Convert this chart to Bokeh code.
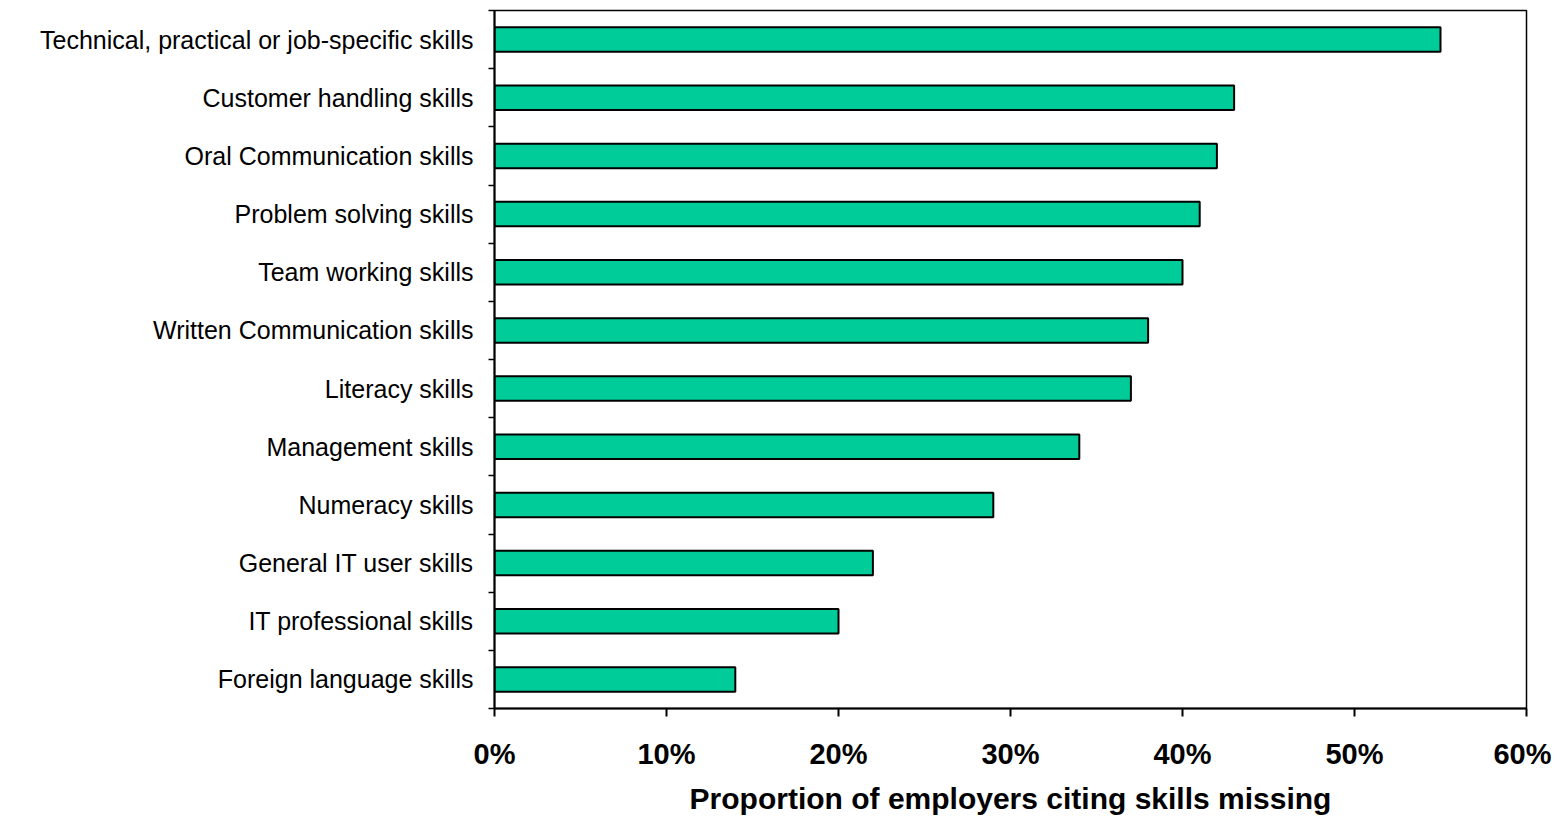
from bokeh.plotting import figure
from bokeh.models import Range1d, FixedTicker, PrintfTickFormatter
from bokeh.embed import file_html
from bokeh.resources import INLINE

categories = [
    "Technical, practical or job-specific skills",
    "Customer handling skills",
    "Oral Communication skills",
    "Problem solving skills",
    "Team working skills",
    "Written Communication skills",
    "Literacy skills",
    "Management skills",
    "Numeracy skills",
    "General IT user skills",
    "IT professional skills",
    "Foreign language skills",
]
values = [55, 43, 42, 41, 40, 38, 37, 34, 29, 22, 20, 14]
x_ticks = [0, 10, 20, 30, 40, 50, 60]

n = len(categories)
# first category at the top
ypos = [n - i for i in range(n)]

p = figure(width=1551, height=817, output_backend="svg", toolbar_location=None,
           x_range=Range1d(0, 60), y_range=Range1d(0.5, n + 0.5),
           min_border_left=494, min_border_right=25, min_border_top=10, min_border_bottom=100)

p.hbar(y=ypos, right=values, left=0, height=0.42, fill_color="#00CC99",
       line_color="black", line_width=2)

p.xgrid.visible = False
p.ygrid.visible = False
p.outline_line_color = "black"
p.outline_line_width = 1.5
p.background_fill_color = "white"
p.border_fill_color = "white"

# y axis
ya = p.yaxis[0]
ya.ticker = FixedTicker(ticks=ypos, minor_ticks=[k + 0.5 for k in range(0, n + 1)])
ya.major_label_overrides = {y: c for y, c in zip(ypos, categories)}
ya.major_tick_line_color = None
ya.major_tick_out = 0
ya.major_tick_in = 0
ya.minor_tick_line_color = "black"
ya.minor_tick_line_width = 1.5
ya.minor_tick_out = 6
ya.minor_tick_in = 0
ya.axis_line_width = 2
ya.axis_line_color = "black"
ya.major_label_text_font = "Liberation Sans"
ya.major_label_text_font_size = "25px"
ya.major_label_text_color = "black"
ya.major_label_standoff = 15

# x axis
xa = p.xaxis[0]
xa.ticker = FixedTicker(ticks=x_ticks, minor_ticks=[])
xa.formatter = PrintfTickFormatter(format="%d%%")
xa.major_tick_out = 8
xa.major_tick_in = 0
xa.major_tick_line_width = 2
xa.major_tick_line_color = "black"
xa.minor_tick_line_color = None
xa.axis_line_width = 2
xa.axis_line_color = "black"
xa.major_label_text_font = "Liberation Sans"
xa.major_label_text_font_style = "bold"
xa.major_label_text_font_size = "29px"
xa.major_label_text_color = "black"
xa.major_label_standoff = 21
xa.axis_label = "Proportion of employers citing skills missing"
xa.axis_label_text_font = "Liberation Sans"
xa.axis_label_text_font_style = "bold"
xa.axis_label_text_font_size = "30px"
xa.axis_label_text_color = "black"
xa.axis_label_standoff = 9

open("out.html", "w").write(file_html(p, INLINE))
